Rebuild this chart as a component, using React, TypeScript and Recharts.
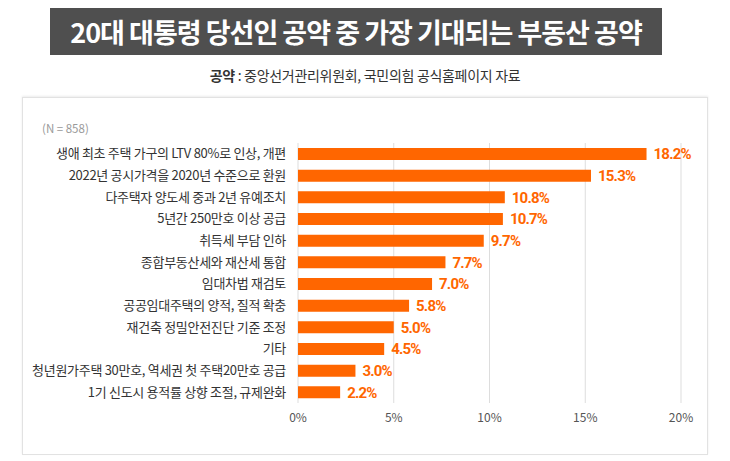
import React from 'react'
import { BarChart, Bar, XAxis, YAxis, CartesianGrid, LabelList } from 'recharts'

const categories = [
  '생애 최초 주택 가구의 LTV 80%로 인상, 개편',
  '2022년 공시가격을 2020년 수준으로 환원',
  '다주택자 양도세 중과 2년 유예조치',
  '5년간 250만호 이상 공급',
  '취득세 부담 인하',
  '종합부동산세와 재산세 통합',
  '임대차법 재검토',
  '공공임대주택의 양적, 질적 확충',
  '재건축 정밀안전진단 기준 조정',
  '기타',
  '청년원가주택 30만호, 역세권 첫 주택20만호 공급',
  '1기 신도시 용적률 상향 조절, 규제완화',
]
const values = [18.2, 15.3, 10.8, 10.7, 9.7, 7.7, 7.0, 5.8, 5.0, 4.5, 3.0, 2.2]
const xTicks = [0, 5, 10, 15, 20]

const ORANGE = '#ff6600'
const KR = '"Noto Sans CJK KR", "Noto Sans", sans-serif'

const data = categories.map((name, i) => ({ name, value: values[i] }))

// single-line category label (recharts would wrap long ones)
function CategoryTick({ x, y, payload }: any) {
  return (
    <text x={x} y={y} dy={4.5} textAnchor="end" fill="#333" fontSize={13} fontFamily={KR} letterSpacing={-0.3}>
      {payload.value}
    </text>
  )
}

export default function App() {
  return (
    <div style={{ position: 'absolute', left: 0, top: 0, width: 730, height: 461, background: '#fff', fontFamily: KR }}>
      {/* title */}
      <div
        style={{
          position: 'absolute', left: 50, top: 8, width: 612, height: 47,
          background: '#4f4f4f', color: '#fff', fontSize: 27, fontWeight: 700,
          display: 'flex', alignItems: 'center', justifyContent: 'center', letterSpacing: -1,
        }}
      >
        20대 대통령 당선인 공약 중 가장 기대되는 부동산 공약
      </div>
      <div style={{ position: 'absolute', left: 0, top: 65, width: 730, textAlign: 'center', fontSize: 14, color: '#333', letterSpacing: -0.3 }}>
        <b>공약</b> : 중앙선거관리위원회, 국민의힘 공식홈페이지 자료
      </div>

      {/* panel */}
      <div
        style={{
          position: 'absolute', left: 22, top: 97, width: 684, height: 356,
          border: '1px solid #e2e2e2', boxShadow: '0 -1px 2px rgba(0,0,0,0.08)', background: '#fff',
        }}
      />
      <div style={{ position: 'absolute', left: 42, top: 120, fontSize: 11.5, color: '#9a9a9a' }}>(N = 858)</div>

      <div style={{ position: 'absolute', left: 0, top: 0 }}>
        <BarChart
          width={730}
          height={461}
          data={data}
          layout="vertical"
          margin={{ top: 143, right: 49, bottom: 28, left: 0 }}
        >
          <CartesianGrid horizontal={false} vertical stroke="#dddddd" />
          <XAxis
            type="number"
            domain={[0, 20]}
            ticks={xTicks}
            tickFormatter={(v) => `${v}%`}
            axisLine={false}
            tickLine={false}
            height={30}
            tickMargin={4}
            tick={{ fill: '#555', fontSize: 12, fontFamily: KR }}
          />
          <YAxis
            type="category"
            dataKey="name"
            width={298}
            axisLine={false}
            tickLine={false}
            tickMargin={6}
            interval={0}
            tick={<CategoryTick />}
          />
          <Bar dataKey="value" fill={ORANGE} barSize={12} isAnimationActive={false}>
            <LabelList
              dataKey="value"
              position="right"
              offset={7}
              formatter={(v: number) => `${v.toFixed(1)}%`}
              style={{ fill: ORANGE, fontSize: 15, fontWeight: 700, fontFamily: '"Liberation Sans Narrow", "Roboto", sans-serif', letterSpacing: -0.8 }}
            />
          </Bar>
        </BarChart>
      </div>
    </div>
  )
}
